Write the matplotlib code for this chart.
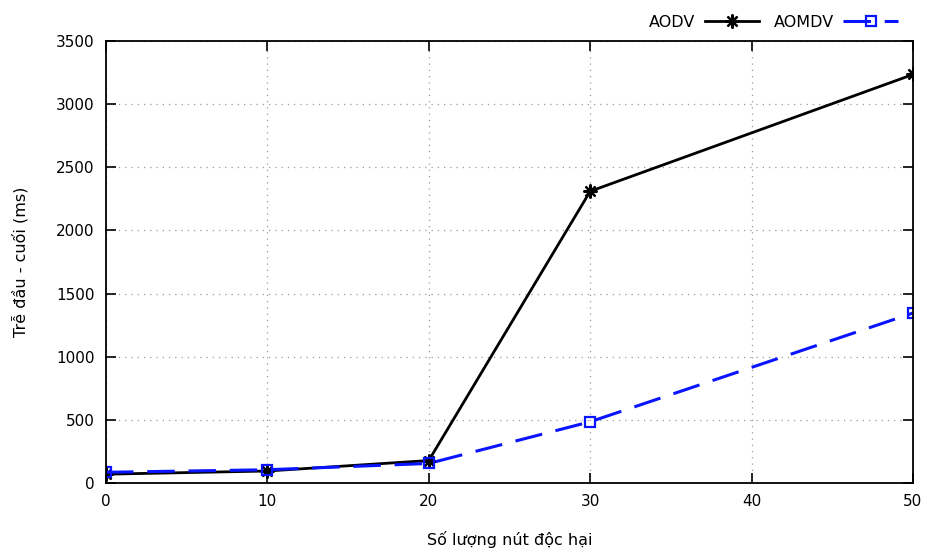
# Độ trễ đầu-cuối của AODV và AOMDV theo số lượng nút độc hại

import matplotlib.pyplot as plt

plt.rcParams.update({
    'font.family': 'DejaVu Sans',
    'font.size': 11,
})

# ── Dữ liệu ──────────────────────────────────────────────────────────────────
so_nut_doc_hai = [0, 10, 20, 30, 50]
tre_aodv = [70, 95, 178, 2310, 3235]
tre_aomdv = [85, 105, 155, 485, 1346]

x_ticks = [0, 10, 20, 30, 40, 50]
y_ticks = [0, 500, 1000, 1500, 2000, 2500, 3000, 3500]

# ── Vẽ ───────────────────────────────────────────────────────────────────────
fig = plt.figure(figsize=(9.28, 5.55), dpi=100)
ax = fig.add_axes([0.1142, 0.1297, 0.8696, 0.7964])

ax.plot(so_nut_doc_hai, tre_aodv, color='black', linewidth=2,
        marker=(8, 2, 0), markersize=10, markeredgewidth=1.6,
        label='AODV')
ax.plot(so_nut_doc_hai, tre_aomdv, color='#0a14ff', linewidth=2.2,
        linestyle=(0, (9, 4.5)), marker='s', markersize=7,
        markerfacecolor='none', markeredgewidth=1.6, label='AOMDV')

ax.set_xlim(0, 50)
ax.set_ylim(0, 3500)
ax.set_xticks(x_ticks)
ax.set_yticks(y_ticks)
ax.grid(True, linestyle=(0, (1, 4)), color='#999999', linewidth=0.9)
ax.tick_params(direction='in', length=7, width=1.2, top=True, right=True,
               labelsize=11, pad=8, colors='black')
for side in ax.spines.values():
    side.set_linewidth(1.3)

ax.set_xlabel('Số lượng nút độc hại', fontsize=11.5, labelpad=16)
ax.set_ylabel('Trễ đầu - cuối (ms)', fontsize=11.5, labelpad=20)

ax.legend(loc='lower right', bbox_to_anchor=(0.995, 1.0), ncol=2,
          markerfirst=False, frameon=False, handlelength=3.4,
          columnspacing=0.9, handletextpad=0.6, borderaxespad=0.3,
          fontsize=11.5)

plt.savefig('out.png', dpi=100)
